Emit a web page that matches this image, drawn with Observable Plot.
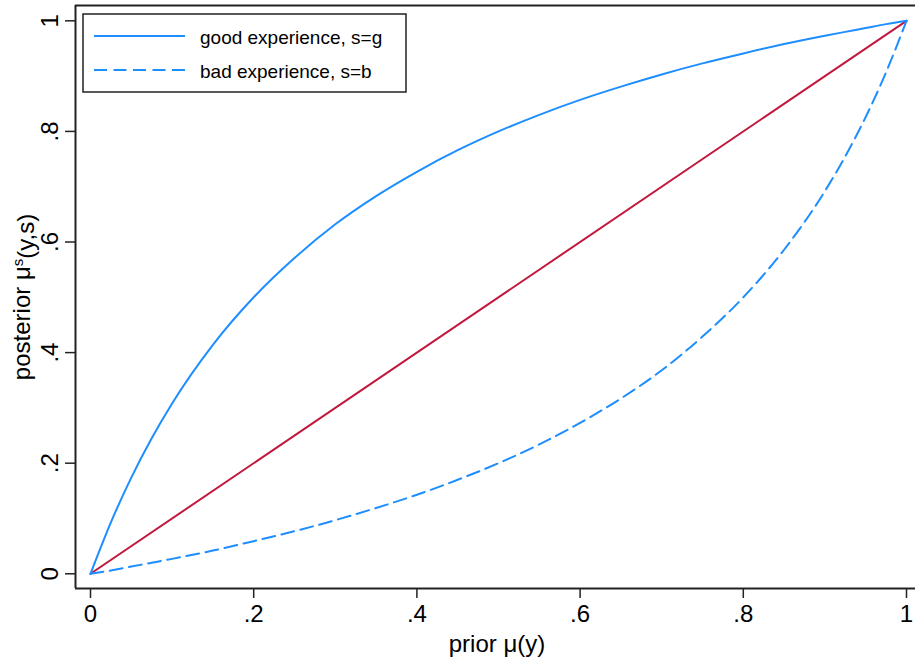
<!DOCTYPE html>
<html>
<head>
<meta charset="utf-8">
<script src="https://cdn.jsdelivr.net/npm/d3@7"></script>
<script src="https://cdn.jsdelivr.net/npm/@observablehq/plot@0.6"></script>
<style>
  html, body { margin: 0; padding: 0; background: #fff; }
  #chart { width: 915px; height: 662px; }
</style>
</head>
<body>
<div id="chart"></div>
<script>
// ---- data ----
const prior = [0, 0.025, 0.05, 0.075, 0.1, 0.15, 0.2, 0.25, 0.3, 0.35, 0.4, 0.45, 0.5,
               0.55, 0.6, 0.65, 0.7, 0.75, 0.8, 0.85, 0.9, 0.925, 0.95, 0.975, 1];
const postGood = [0, 0.093, 0.174, 0.245, 0.308, 0.414, 0.5, 0.571, 0.632, 0.683, 0.727, 0.766, 0.8,
                  0.830, 0.857, 0.881, 0.903, 0.923, 0.941, 0.958, 0.973, 0.980, 0.987, 0.994, 1];
const postBad  = [0, 0.006, 0.013, 0.020, 0.027, 0.042, 0.059, 0.077, 0.097, 0.119, 0.143, 0.170, 0.2,
                  0.234, 0.273, 0.317, 0.368, 0.429, 0.5, 0.586, 0.692, 0.755, 0.826, 0.907, 1];
const diagonal = [0, 1];
const xTicks = [0, 0.2, 0.4, 0.6, 0.8, 1];
const yTicks = [0, 0.2, 0.4, 0.6, 0.8, 1];
const tickLabels = ["0", ".2", ".4", ".6", ".8", "1"];
const seriesNames = ["good experience, s=g", "bad experience, s=b"];
const xTitle = "prior μ(y)";
const yTitleMain = "posterior μ";
const yTitleSup = "s";
const yTitleTail = "(y,s)";

// ---- styles ----
const BLUE = "#1e8eff";
const RED = "#c2183d";
const FONT = "'Liberation Sans', Arial, Helvetica, sans-serif";
const fmt = d => tickLabels[xTicks.indexOf(d)];

const good = prior.map((p, i) => ({x: p, y: postGood[i]}));
const bad = prior.map((p, i) => ({x: p, y: postBad[i]}));
const diag = diagonal.map(v => ({x: v, y: v}));

const xDomain = [-0.01838, 1.01103];
const yDomain = [-0.0266, 1.0277];

const plot = Plot.plot({
  width: 915,
  height: 662,
  marginLeft: 75,
  marginRight: 0,
  marginTop: 5,
  marginBottom: 74,
  style: {fontFamily: FONT, background: "#fff", color: "#000"},
  x: {domain: xDomain, label: null},
  y: {domain: yDomain, label: null},
  marks: [
    Plot.axisX({ticks: xTicks, tickFormat: fmt, tickSize: 10, tickPadding: 6, fontSize: 24, stroke: "#222", strokeWidth: 1.5, label: null}),
    Plot.axisY({ticks: yTicks, tickFormat: fmt, tickSize: 10, tickPadding: 8, fontSize: 24, tickRotate: -90, stroke: "#222", strokeWidth: 1.5, label: null}),
    Plot.ruleX([xDomain[0]], {stroke: "#222", strokeWidth: 2}),
    Plot.ruleY([yDomain[0], yDomain[1]], {stroke: "#222", strokeWidth: 2}),
    Plot.line(diag, {x: "x", y: "y", stroke: RED, strokeWidth: 2}),
    Plot.line(good, {x: "x", y: "y", stroke: BLUE, strokeWidth: 2, curve: "monotone-x"}),
    Plot.line(bad, {x: "x", y: "y", stroke: BLUE, strokeWidth: 2, strokeDasharray: "13,6.5", curve: "monotone-x"})
  ]
});
document.getElementById("chart").appendChild(plot);

const svg = d3.select(plot);

// axis titles
svg.append("text")
  .attr("x", 497).attr("y", 652)
  .attr("text-anchor", "middle")
  .style("font-family", FONT).style("font-size", "24px").attr("fill", "#000")
  .text(xTitle);

const yt = svg.append("text")
  .attr("transform", "translate(30,297) rotate(-90)")
  .attr("text-anchor", "middle")
  .style("font-family", FONT).style("font-size", "24px").attr("fill", "#000");
yt.append("tspan").text(yTitleMain);
yt.append("tspan").attr("dy", "-0.45em").style("font-size", "15px").text(yTitleSup);
yt.append("tspan").attr("dy", "0.45em").text(yTitleTail);

// legend
const lg = svg.append("g");
lg.append("rect").attr("x", 83).attr("y", 14).attr("width", 323).attr("height", 78)
  .attr("fill", "#fff").attr("stroke", "#222").attr("stroke-width", 1.5);
seriesNames.forEach((name, i) => {
  const cy = 36 + i * 34;
  lg.append("line").attr("x1", 94).attr("x2", 185).attr("y1", cy).attr("y2", cy)
    .attr("stroke", BLUE).attr("stroke-width", 2)
    .attr("stroke-dasharray", i === 1 ? "13,6.5" : null);
  lg.append("text").attr("x", 200).attr("y", cy + 1).attr("dy", "0.35em")
    .attr("text-anchor", "start")
    .style("font-family", FONT).style("font-size", "19px").attr("fill", "#000")
    .text(name);
});
</script>
</body>
</html>
